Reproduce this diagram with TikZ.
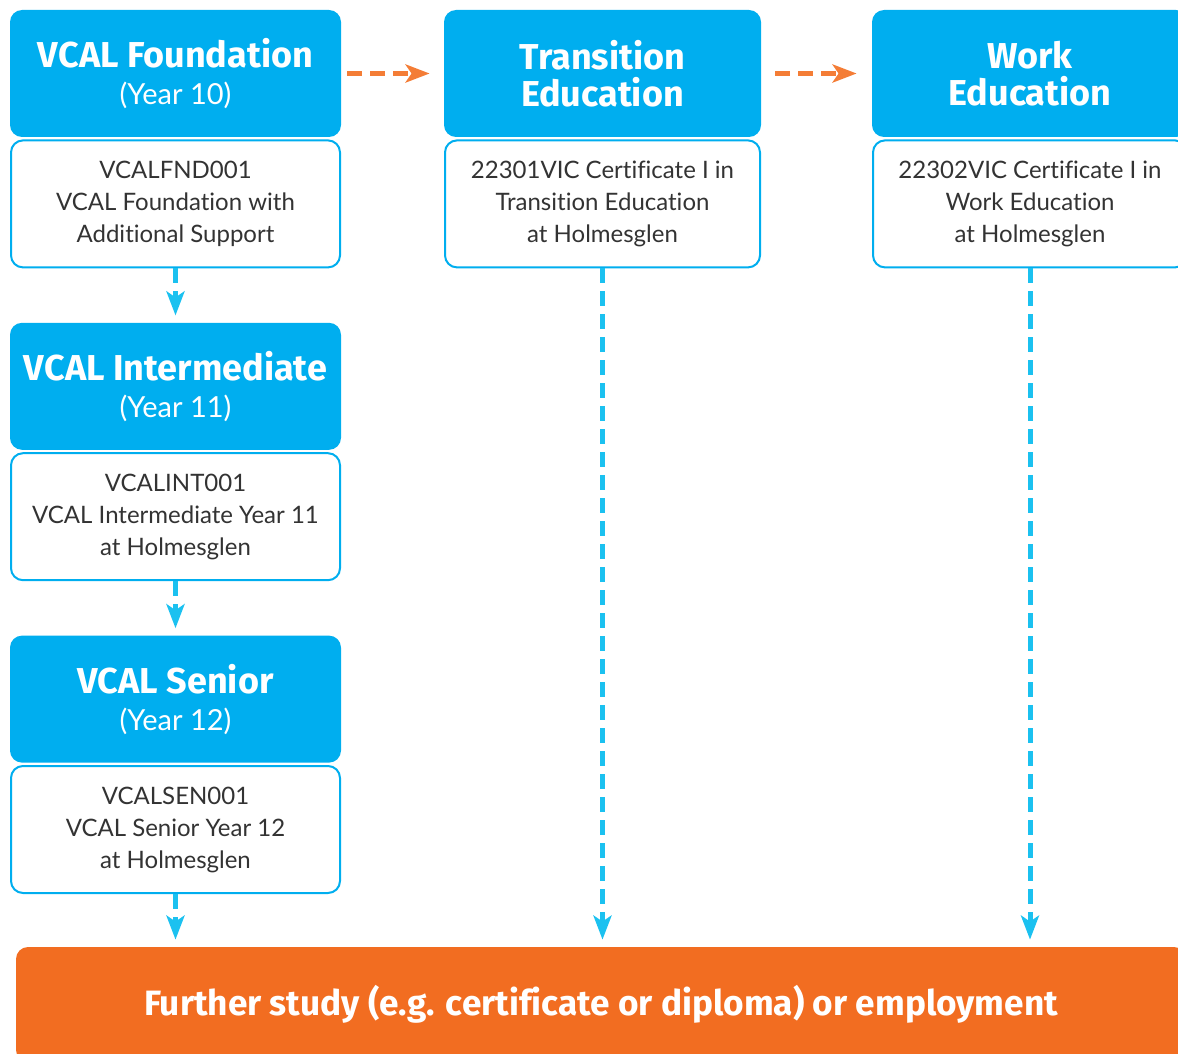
\documentclass[tikz,border=0pt]{standalone}
\usepackage{fontspec}
\setmainfont[Ligatures = NoCommon]{Lato}
\newfontfamily\headfont[Ligatures = NoCommon]{Fira Sans}
\usetikzlibrary{positioning, arrows.meta}

\definecolor{vcalblue}{HTML}{00AEEF}
\definecolor{flowblue}{HTML}{1BC1F0}
\definecolor{crossorange}{HTML}{F47D36}
\definecolor{exitorange}{HTML}{F26D21}
\definecolor{textgrey}{HTML}{333333}

\tikzset{
header/.style = {rectangle, rounded corners = 6pt, fill = vcalblue, text = white,
	align = center, inner sep = 0pt, minimum width = 165.5pt, minimum height = 63.5pt,
	font = \headfont\bfseries\fontsize{18}{18.5}\selectfont},
course/.style = {rectangle, rounded corners = 6pt, draw = vcalblue, line width = 1pt,
	fill = white, text = textgrey, align = center, inner sep = 0pt,
	minimum width = 164.5pt, minimum height = 63.5pt, font = \fontsize{12}{16}\selectfont},
outcome/.style = {rectangle, rounded corners = 6pt, fill = exitorange, text = white,
	inner sep = 0pt, minimum width = 585pt, minimum height = 57.5pt,
	font = \headfont\bfseries\fontsize{17.6}{20}\selectfont},
pathway/.style = {-{Stealth[length = 12pt, width = 9pt, inset = 3pt]}, line width = 2.5pt,
	draw = flowblue, dash pattern = on 7.5pt off 4pt, shorten > = 3.5pt},
crossover/.style = {-{Stealth[length = 12pt, width = 9pt, inset = 3pt]}, line width = 2.5pt,
	draw = crossorange, dash pattern = on 7.5pt off 4pt}
}
\newcommand{\yearline}[1]{{\fontfamily{\familydefault}\mdseries\fontsize{14.5}{18.5}\selectfont #1}}

\begin{document}
\begin{tikzpicture}[x = 0.5pt, y = -0.5pt]
\useasboundingbox (0,0) rectangle (1178,1054);

%% The VCAL stream
\node [header] (fnd) at (175.5,73.5) {VCAL Foundation\\\yearline{(Year 10)}};
\node [course] (fndcourse) [below = 1pt of fnd] {VCALFND001\\VCAL Foundation with\\Additional Support};
\node [header] (int) [below = 27pt of fndcourse] {VCAL Intermediate\\\yearline{(Year 11)}};
\node [course] (intcourse) [below = 1pt of int] {VCALINT001\\VCAL Intermediate Year 11\\at Holmesglen};
\node [header] (sen) [below = 27pt of intcourse] {VCAL Senior\\\yearline{(Year 12)}};
\node [course] (sencourse) [below = 1pt of sen] {VCALSEN001\\VCAL Senior Year 12\\at Holmesglen};

%% The certificate streams
\node [header, minimum width = 158.5pt] (trn) at (602.5,73.5) {Transition\\Education};
\node [course, minimum width = 157.5pt] (trncourse) [below = 1pt of trn] {22301VIC Certificate I in\\Transition Education\\at Holmesglen};
\node [header, minimum width = 158pt] (wrk) at (1030,73.5) {Work\\Education};
\node [course, minimum width = 157pt] (wrkcourse) [below = 1pt of wrk] {22302VIC Certificate I in\\Work Education\\at Holmesglen};

%% The outcome
\node [outcome] (exit) at (601,1004.5) {Further study (e.g. certificate or diploma) or employment};

%% The pathways
\draw [pathway] (fndcourse) -- (int);
\draw [pathway] (intcourse) -- (sen);
\draw [pathway] (sencourse.south) -- (sencourse.south |- exit.north);
\draw [pathway] (trncourse.south) -- (trncourse.south |- exit.north);
\draw [pathway] (wrkcourse.south) -- (wrkcourse.south |- exit.north);

%% The cross-overs
\draw [crossover, shorten < = 3pt, shorten > = 7pt] (fnd.east) -- (trn.west);
\draw [crossover, shorten < = 7pt, shorten > = 7.5pt] (trn.east) -- (wrk.west);

\end{tikzpicture}
\end{document}
